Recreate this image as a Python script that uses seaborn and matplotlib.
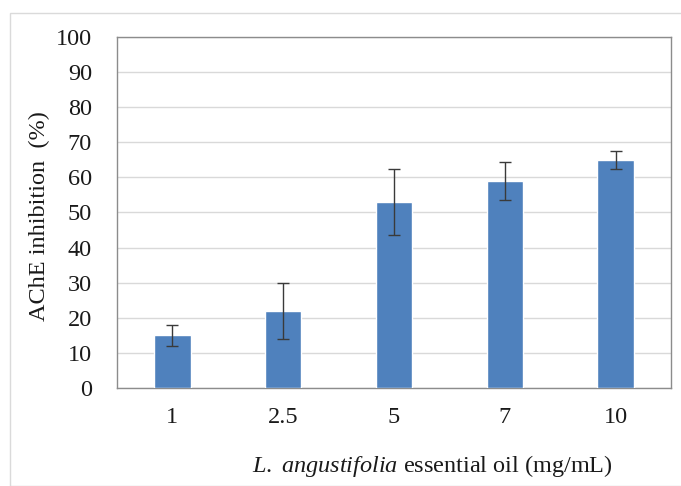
import matplotlib
matplotlib.use("Agg")
import matplotlib.pyplot as plt
import matplotlib.patches as mpatches
import pandas as pd
import seaborn as sns

concentrations = ["1", "2.5", "5", "7", "10"]
inhibition = [15, 22, 53, 59, 65]
inhibition_sd = [3, 8, 9.5, 5.5, 2.5]
y_ticks = [0, 10, 20, 30, 40, 50, 60, 70, 80, 90, 100]

df = pd.DataFrame({"conc": concentrations, "inhibition": inhibition, "sd": inhibition_sd})

sns.set_theme(style="white")
plt.rcParams["font.family"] = ["Liberation Serif", "DejaVu Serif"]
plt.rcParams["mathtext.fontset"] = "custom"
plt.rcParams["mathtext.rm"] = "Liberation Serif"
plt.rcParams["mathtext.it"] = "Liberation Serif:italic"

fig = plt.figure(figsize=(6.81, 4.86), dpi=100)
fig.patch.set_facecolor("white")
# light outer frame like the source image
fig.patches.append(mpatches.Rectangle((10 / 681, 0), 1.0, 1 - 13 / 486, transform=fig.transFigure,
                                      fill=False, edgecolor="#dadada", linewidth=1.0, zorder=0))

ax = fig.add_axes([117 / 681, 98 / 486, 554 / 681, 351 / 486])
sns.barplot(data=df, x="conc", y="inhibition", order=concentrations, color="#4f81bd",
            saturation=1, width=0.33, errorbar=None, ax=ax, zorder=3)
ax.errorbar(x=range(len(concentrations)), y=df["inhibition"], yerr=df["sd"], fmt="none",
            ecolor="#3a3a3a", elinewidth=1.0, capsize=4, capthick=1.0, zorder=4)

ax.set_xlim(-0.5, len(concentrations) - 0.5)
ax.set_ylim(0, 100)
ax.set_yticks(y_ticks)
ax.set_yticklabels([str(t) for t in y_ticks])
ax.grid(True, axis="y", color="#d9d9d9", linewidth=1.0, zorder=0)
ax.set_axisbelow(True)
for side in ["left", "right", "top", "bottom"]:
    ax.spines[side].set_color("#8c8c8c")
    ax.spines[side].set_linewidth(1.0)
ax.tick_params(axis="both", length=0, labelsize=17.5, colors="#1a1a1a")
ax.tick_params(axis="y", pad=18)
ax.tick_params(axis="x", pad=14)

ax.set_ylabel("AChE inhibition  (%)", fontsize=17.5, color="#1a1a1a")
ax.yaxis.set_label_coords((50 - 117) / 554, 0.49)
ax.set_xlabel(r"$\it{L.\ angustifolia}$ essential oil (mg/mL)", fontsize=17.5, color="#1a1a1a")
ax.xaxis.set_label_coords((432 - 117) / 554, (388 - 453) / 351)

fig.savefig("out.png", dpi=100)
plt.close(fig)
